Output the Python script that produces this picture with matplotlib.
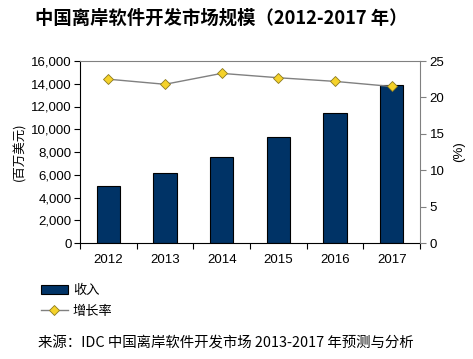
import matplotlib
matplotlib.use("Agg")
import matplotlib.pyplot as plt
from matplotlib.lines import Line2D
from matplotlib.patches import Patch

plt.rcParams['font.family'] = ['Liberation Sans', 'Noto Sans CJK SC', 'DejaVu Sans']

years = ['2012', '2013', '2014', '2015', '2016', '2017']
revenue = [5040, 6150, 7560, 9320, 11430, 13890]
growth = [22.5, 21.8, 23.3, 22.7, 22.2, 21.5]
left_ticks = [0, 2000, 4000, 6000, 8000, 10000, 12000, 14000, 16000]
right_ticks = [0, 5, 10, 15, 20, 25]

W, H = 473, 359
fig = plt.figure(figsize=(W / 100, H / 100), dpi=100)
ax = fig.add_axes([80 / W, 1 - 243 / H, 340 / W, 182 / H])

x = list(range(len(years)))
ax.bar(x, revenue, width=0.41, color='#003366', edgecolor='black', linewidth=0.8, zorder=2)
ax.set_xlim(-0.5, len(years) - 0.5)
ax.set_ylim(0, 16000)
ax.set_yticks(left_ticks)
ax.set_yticklabels([f'{v:,}' for v in left_ticks], fontsize=9.5)
ax.set_xticks(x)
ax.set_xticklabels(years, fontsize=9.5)
ax.set_xticks([i - 0.5 for i in range(len(years) + 1)], minor=True)
ax.tick_params(axis='x', which='major', length=0, pad=8)
ax.tick_params(axis='x', which='minor', length=4, width=0.8, direction='out')
ax.tick_params(axis='y', length=4, width=0.8, direction='out', pad=2)
ax.spines['top'].set_color('#808080')
ax.spines['right'].set_visible(False)
ax.spines['left'].set_linewidth(0.8)
ax.spines['bottom'].set_linewidth(0.8)
ax.set_ylabel('(百万美元)', fontsize=9, family=['Noto Sans CJK SC', 'DejaVu Sans'], labelpad=3)

ax2 = ax.twinx()
ax2.plot(x, growth, color='#808080', linewidth=1.0, marker='D', markersize=5,
         markerfacecolor='#F5D22A', markeredgecolor='#8C7A20', markeredgewidth=0.6, zorder=3)
ax2.set_ylim(0, 25)
ax2.set_yticks(right_ticks)
ax2.set_yticklabels([str(v) for v in right_ticks], fontsize=9.5)
ax2.tick_params(axis='y', length=4, width=0.8, direction='out', color='#808080', pad=3)
ax2.spines['right'].set_color('#808080')
ax2.spines['top'].set_visible(False)
ax2.spines['left'].set_visible(False)
ax2.spines['bottom'].set_visible(False)
ax2.set_ylabel('(%)', fontsize=9.5, labelpad=6)

fig.text(221 / W, 1 - 18 / H, '中国离岸软件开发市场规模（2012-2017 年）', ha='center', va='center',
         fontsize=13.2, fontweight='bold', family=['Noto Sans CJK SC', 'DejaVu Sans'])

handles = [Patch(facecolor='#003366', edgecolor='black', linewidth=0.8),
           Line2D([0], [0], color='#808080', lw=1.0, marker='D', markersize=5,
                  markerfacecolor='#F5D22A', markeredgecolor='#8C7A20', markeredgewidth=0.6)]
fig.legend(handles, ['收入', '增长率'], loc='upper left', bbox_to_anchor=(36 / W, 1 - 279 / H),
           frameon=False, prop={'family': ['Noto Sans CJK SC'], 'size': 9.5},
           handlelength=2.0, handleheight=0.6, handletextpad=0.4, labelspacing=0.55, borderaxespad=0)

fig.text(38 / W, 1 - 343 / H, '来源：IDC 中国离岸软件开发市场 2013-2017 年预测与分析', ha='left', va='center',
         fontsize=10.4, family=['Noto Sans CJK SC', 'DejaVu Sans'])

fig.savefig('out.png', dpi=100)
